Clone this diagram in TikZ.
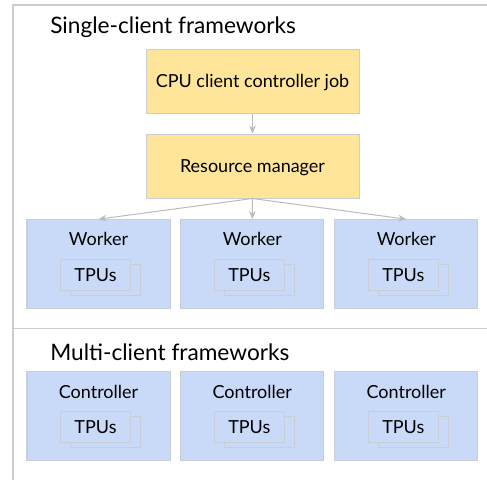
\documentclass[tikz,border=0pt]{standalone}
\usepackage{fontspec}
\setmainfont{Lato}
\usetikzlibrary{arrows.meta}
\definecolor{yel}{HTML}{FFE599}
\definecolor{blu}{HTML}{C9DAF8}
\definecolor{bord}{HTML}{C8CDD6}
\definecolor{frame}{HTML}{CCCCCC}
\definecolor{arr}{HTML}{BBBBBB}
\begin{document}
\begin{tikzpicture}[x=0.75pt,y=-0.75pt,
  ybox/.style={draw=bord,fill=yel,line width=0.75pt,minimum width=159.75pt,minimum height=48pt,inner sep=0pt,text height=9.7pt,text depth=0pt,font=\fontsize{13.5pt}{15pt}\selectfont},
  bbox/.style={draw=bord,fill=blu,line width=0.75pt,minimum width=107.25pt,minimum height=66.5pt,inner sep=0pt},
  tpu/.style={draw=bord,fill=blu,line width=0.75pt,minimum width=52.5pt,minimum height=23.25pt,inner sep=0pt,text height=9.7pt,text depth=0pt,font=\fontsize{13.5pt}{15pt}\selectfont},
  tpuback/.style={draw=bord,line width=0.75pt,minimum width=52.5pt,minimum height=23.25pt,inner sep=0pt},
  lbl/.style={inner sep=0pt,text height=9.7pt,text depth=0pt,font=\fontsize{13.5pt}{15pt}\selectfont},
  ttl/.style={inner sep=0pt,anchor=base west,font=\fontsize{17pt}{19pt}\selectfont},
  conn/.style={draw=arr,line width=0.75pt,-{Stealth[length=6pt,width=5pt]}},
  framel/.style={draw=frame,line width=1pt}]
\useasboundingbox (0,0) rectangle (487,480);
\coordinate (fb) at (13,480);
\coordinate (ft) at (13,5);
\coordinate (fr) at (487,5);
\coordinate (sl) at (13,328.3);
\coordinate (sr) at (487,328.3);
\draw[framel] (fb) -- (ft) -- (fr);
\draw[framel] (sl) -- (sr);
\node[ttl] (t1) at (50,33.5) {Single-client frameworks};
\node[ttl] (t2) at (50,360) {Multi-client frameworks};
\node[ybox] (cpu) at (252.5,81.3) {CPU client controller job};
\node[ybox] (rm) at (252.5,166) {Resource manager};
\foreach \i/\x in {1/98.5,2/252.3,3/406.3}{
  \node[bbox] (w\i) at (\x,264) {};
  \node[lbl] (wl\i) at (\x,239.5) {Worker};
  \node[tpuback] (wb\i) at (\x+7,280) {};
  \node[tpu] (wt\i) at (\x-3,275) {TPUs};
  \node[bbox] (c\i) at (\x,416) {};
  \node[lbl] (cl\i) at (\x,391.7) {Controller};
  \node[tpuback] (cb\i) at (\x+7,431.7) {};
  \node[tpu] (ct\i) at (\x-3,426.7) {TPUs};
}
\draw[conn] (cpu) -- (rm);
\draw[conn] (rm.south) -- (w1.north);
\draw[conn] (rm.south) -- (w2.north);
\draw[conn] (rm.south) -- (w3.north);
\end{tikzpicture}
\end{document}
